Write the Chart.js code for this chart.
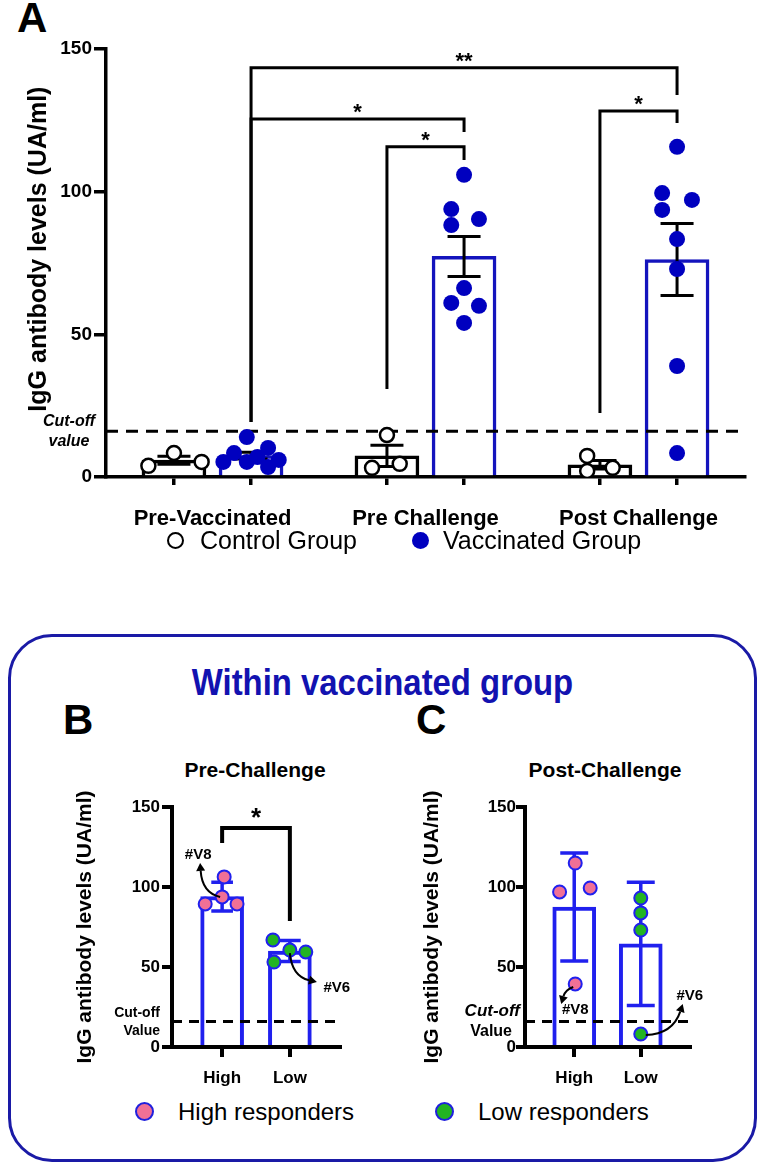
<!DOCTYPE html>
<html>
<head>
<meta charset="utf-8">
<title>IgG antibody levels</title>
<script src="https://cdn.jsdelivr.net/npm/chart.js@4.4.1/dist/chart.umd.min.js"></script>
<style>
  html, body { margin: 0; padding: 0; background: #fff; }
  #page { position: relative; width: 765px; height: 1169px; overflow: hidden;
          font-family: "Liberation Sans", Arial, sans-serif; color: #000; }
  #page canvas, #page .t, #page .dot, #box { position: absolute; }
  .t { white-space: nowrap; line-height: 1; }
  .letter { font-size: 42px; font-weight: bold; }
  .sub { font-size: 21px; font-weight: bold; text-align: center; width: 220px; }
  .leg { font-size: 25px; }
  .leg2 { font-size: 24px; }
  .dot { box-sizing: border-box; border-radius: 50%; }
  #box { left: 8px; top: 634px; width: 749px; height: 528px; box-sizing: border-box;
         border: 3px solid #1a1aa6; border-radius: 44px; }
  #boxTitle { left: 0; width: 765px; text-align: center;
              font-family: "Liberation Sans Narrow", "Liberation Sans", Arial, sans-serif;
              font-weight: bold; font-size: 36px; color: #1212b0; transform: scaleX(0.913); }
</style>
</head>
<body>
<div id="page">
  <div class="t letter" style="left:17px; top:-3px;">A</div>
  <canvas id="chartA" width="765" height="600" style="left:0; top:0;"></canvas>

  <div class="dot" style="left:167px; top:532px; width:17px; height:17px; border:2.5px solid #000; background:#fff;"></div>
  <div class="t leg" style="left:200px; top:528px;">Control Group</div>
  <div class="dot" style="left:412px; top:532px; width:17px; height:17px; background:#0000bf;"></div>
  <div class="t leg" style="left:443px; top:528px;">Vaccinated Group</div>

  <div id="box"></div>
  <div id="boxTitle" class="t" style="top:665px;">Within vaccinated group</div>

  <div class="t letter" style="left:63px; top:699px;">B</div>
  <div class="t letter" style="left:416px; top:699px;">C</div>
  <div class="t sub" style="left:145px; top:759px;">Pre-Challenge</div>
  <div class="t sub" style="left:495px; top:759px;">Post-Challenge</div>

  <canvas id="chartB" width="330" height="300" style="left:40px; top:790px;"></canvas>
  <canvas id="chartC" width="330" height="300" style="left:400px; top:790px;"></canvas>

  <div class="dot" style="left:135px; top:1102px; width:19px; height:19px; border:2.5px solid #2020dd; background:#f07096;"></div>
  <div class="t leg2" style="left:178px; top:1100px;">High responders</div>
  <div class="dot" style="left:435px; top:1102px; width:19px; height:19px; border:2.5px solid #2020dd; background:#22b422;"></div>
  <div class="t leg2" style="left:478px; top:1100px;">Low responders</div>
</div>

<script>
// ---------- panel A data ----------
const groups = ['Pre-Vaccinated', 'Pre Challenge', 'Post Challenge'];
const controlMean = [5.9, 7.4, 4.3];
const controlSem = [1.4, 3.7, 1.5];
const vaccMean = [7.5, 77.3, 76.2];
const vaccSem = [1.2, 7.0, 12.6];
const controlValues = [
  [3.9, 8.4, 5.3],
  [14.7, 3.2, 4.6],
  [7.4, 2.1, 3.2]
];
const vaccValues = [
  [14.0, 8.4, 5.3, 5.3, 7.0, 10.2, 3.5, 6.0],
  [105.9, 93.9, 88.3, 90.4, 66.2, 61.0, 60.0, 54.0],
  [115.7, 99.5, 93.6, 97.1, 83.4, 72.9, 38.9, 8.4]
];
// sideways spread of the dots round their bar (category units)
const controlSpread = [[-0.12, 0, 0.13], [0, -0.07, 0.06], [-0.06, -0.06, 0.06]];
const vaccSpread = [
  [-0.02, -0.08, -0.13, -0.02, 0.03, 0.08, 0.08, 0.13],
  [0, -0.06, -0.06, 0.07, 0, -0.06, 0.07, 0],
  [0, -0.07, -0.07, 0.07, 0, 0, 0, 0]
];
const cutOff = 16;
// significance brackets: bar = [group, 0 control / 1 vaccinated]
const bracketsA = [
  { from: [0, 1], to: [2, 1], top: 143.4, ends: [19.3, 133.9], text: '**' },
  { from: [0, 1], to: [1, 1], top: 125.5, ends: [19.3, 120.9], text: '*' },
  { from: [1, 0], to: [1, 1], top: 115.7, ends: [30.8, 111.1], text: '*' },
  { from: [2, 0], to: [2, 1], top: 128.3, ends: [22.4, 124.1], text: '*' }
];

// ---------- panels B / C data ----------
const responders = ['High', 'Low'];
const preMean = [94, 60];
const preSd = [9, 6.5];
const preHigh = [106.3, 93.8, 89.4, 89.4];
const preLow = [66.9, 60.6, 59.4, 53.1];
const postMean = [87.5, 64.5];
const postSd = [33.8, 38.5];
const postHigh = [115, 96.9, 99.4, 39.4];
const postLow = [93.1, 83.8, 73.1, 8.1];
const preHighSpread = [0.03, 0, -0.25, 0.22];
const preLowSpread = [-0.25, 0, 0.235, -0.235];
const postHighSpread = [0.015, -0.22, 0.24, 0.015];
const postLowSpread = [0, 0, 0, 0];
const bracketB = { top: 136.9, ends: [127.5, 78.8], text: '*' };

// ---------- styling ----------
const FONT = "'Liberation Sans', Arial, sans-serif";
const BLUE_A = '#1414bd';
const DOT_A = '#0000bf';
const BLUE_B = '#2020ee';
const PINK = '#f07096';
const GREEN = '#22b422';
const SIDE = 0.181;

Chart.defaults.font.family = FONT;
Chart.defaults.color = '#000';
Chart.defaults.animation = false;

const barX = (g, side) => g + 1 + (side ? SIDE : -SIDE);

function errorBar(x, mean, err, half, color, width) {
  const hi = mean + err, lo = mean - err;
  return {
    type: 'line', order: 3, clip: false,
    data: [{ x: x - half, y: hi }, { x: x + half, y: hi }, { x: x, y: hi },
           { x: x, y: lo }, { x: x - half, y: lo }, { x: x + half, y: lo }],
    borderColor: color, borderWidth: width, pointRadius: 0, pointHitRadius: 0,
    tension: 0, fill: false, borderJoinStyle: 'bevel', borderCapStyle: 'butt'
  };
}

function bracket(x1, x2, top, y1, y2, width) {
  return {
    type: 'line', order: 2, clip: false,
    data: [{ x: x1, y: y1 }, { x: x1, y: top }, { x: x2, y: top }, { x: x2, y: y2 }],
    borderColor: '#000', borderWidth: width, pointRadius: 0, pointHitRadius: 0,
    tension: 0, fill: false, borderJoinStyle: 'miter', borderCapStyle: 'butt'
  };
}

function cutLine(x1, x2, width, dash) {
  return {
    type: 'line', order: 2,
    data: [{ x: x1, y: cutOff }, { x: x2, y: cutOff }],
    borderColor: '#000', borderWidth: width, borderDash: dash,
    pointRadius: 0, pointHitRadius: 0, fill: false
  };
}

function yAxis(o) {
  return {
    min: 0, max: 150,
    ticks: { stepSize: 50, font: { size: o.tickSize, weight: 'bold' }, padding: o.tickPad, color: '#000' },
    grid: { display: true, drawOnChartArea: false, drawTicks: true, tickLength: o.tickLen,
            lineWidth: o.lw, color: '#000', tickColor: '#000' },
    border: { display: true, color: '#000', width: o.lw },
    title: { display: true, text: o.title, color: '#000',
             font: { size: o.titleSize, weight: 'bold' }, padding: 0 },
    afterFit: (a) => { a.width = o.width; }
  };
}

// stars, cut-off caption and animal tags, placed with the chart's scales
function notesPlugin(spec) {
  return {
    id: 'notes',
    afterDatasetsDraw(chart) {
      const { ctx, chartArea } = chart;
      const x = chart.scales.x, y = chart.scales.y;
      ctx.save();
      ctx.fillStyle = '#000';
      ctx.strokeStyle = '#000';
      spec.stars.forEach(s => {
        ctx.font = s.font;
        ctx.textAlign = 'center';
        ctx.textBaseline = 'alphabetic';
        ctx.fillText(s.text, x.getPixelForValue(s.x), y.getPixelForValue(s.y) + s.dy);
      });
      spec.cut.forEach(c => {
        ctx.font = c.font;
        ctx.textAlign = c.align;
        ctx.textBaseline = 'middle';
        ctx.fillText(c.text, chartArea.left + c.dx, y.getPixelForValue(cutOff) + c.dy);
      });
      (spec.tags || []).forEach(t => {
        const px = x.getPixelForValue(t.x), py = y.getPixelForValue(t.y);
        const sx = px + t.start[0], sy = py + t.start[1];
        const cx = px + t.ctrl[0], cy = py + t.ctrl[1];
        const ex = px + t.tip[0], ey = py + t.tip[1];
        const a = Math.atan2(ey - cy, ex - cx);
        const bx = ex - Math.cos(a) * 8, by = ey - Math.sin(a) * 8;
        ctx.lineWidth = 2;
        ctx.beginPath();
        ctx.moveTo(sx, sy);
        ctx.quadraticCurveTo(cx, cy, bx, by);
        ctx.stroke();
        ctx.beginPath();
        ctx.moveTo(ex, ey);
        ctx.lineTo(bx + Math.sin(a) * 4.5, by - Math.cos(a) * 4.5);
        ctx.lineTo(bx - Math.sin(a) * 4.5, by + Math.cos(a) * 4.5);
        ctx.closePath();
        ctx.fill();
        ctx.font = 'bold 15px ' + FONT;
        ctx.textAlign = 'center';
        ctx.textBaseline = 'middle';
        ctx.fillText(t.text, px + t.label[0], py + t.label[1]);
      });
      ctx.restore();
    }
  };
}

const TITLE = 'IgG antibody levels (UA/ml)';

// ---------- panel A ----------
const ctrlPts = [], vaccPts = [];
controlValues.forEach((vals, g) => vals.forEach((v, i) => ctrlPts.push({ x: barX(g, 0) + controlSpread[g][i], y: v })));
vaccValues.forEach((vals, g) => vals.forEach((v, i) => vaccPts.push({ x: barX(g, 1) + vaccSpread[g][i], y: v })));

const tickValsA = [];
groups.forEach((g, i) => tickValsA.push(barX(i, 0), i + 1, barX(i, 1)));

const datasetsA = [
  { type: 'scatter', order: 1, data: vaccPts, pointRadius: 8, pointHoverRadius: 8,
    pointBackgroundColor: DOT_A, pointBorderColor: DOT_A, pointBorderWidth: 0 },
  { type: 'scatter', order: 1, data: ctrlPts, pointRadius: 7, pointHoverRadius: 7,
    pointBackgroundColor: '#fff', pointBorderColor: '#000', pointBorderWidth: 2.5 },
  cutLine(0.5, 3.5, 3, [12, 8]),
  { type: 'bar', order: 4, grouped: false, barThickness: 64,
    data: groups.map((g, i) => ({ x: barX(i, 0), y: controlMean[i] })),
    backgroundColor: '#fff', borderColor: '#000', borderWidth: 3.5 },
  { type: 'bar', order: 4, grouped: false, barThickness: 64,
    data: groups.map((g, i) => ({ x: barX(i, 1), y: vaccMean[i] })),
    backgroundColor: '#fff', borderColor: BLUE_A, borderWidth: 3.5 }
];
groups.forEach((g, i) => {
  datasetsA.push(errorBar(barX(i, 0), controlMean[i], controlSem[i], 0.0775, '#000', 3));
  datasetsA.push(errorBar(barX(i, 1), vaccMean[i], vaccSem[i], 0.0775, '#000', 3));
});
bracketsA.forEach(b => {
  datasetsA.push(bracket(barX(b.from[0], b.from[1]), barX(b.to[0], b.to[1]), b.top, b.ends[0], b.ends[1], 3));
});

new Chart(document.getElementById('chartA'), {
  type: 'bar',
  data: { datasets: datasetsA },
  options: {
    responsive: false, devicePixelRatio: 1, events: [],
    layout: { padding: { left: 24, right: 20, top: 49, bottom: 0 } },
    plugins: { legend: { display: false }, tooltip: { enabled: false } },
    scales: {
      x: {
        type: 'linear', min: 0.5, max: 3.5, offset: false,
        afterBuildTicks: (a) => { a.ticks = tickValsA.map(v => ({ value: v })); },
        ticks: { autoSkip: false, maxRotation: 0, padding: 21, color: '#000',
                 font: { size: 22, weight: 'bold' },
                 callback: (v, i) => (i % 3 === 1 ? groups[(i - 1) / 3] : '') },
        grid: { display: true, drawOnChartArea: false, drawTicks: true, tickLength: 8, lineWidth: 3.5, offset: false,
                color: (c) => (c.index % 3 === 1 ? 'rgba(0,0,0,0)' : '#000'),
                tickColor: (c) => (c.index % 3 === 1 ? 'rgba(0,0,0,0)' : '#000') },
        border: { display: true, color: '#000', width: 3.5 },
        afterFit: (a) => { a.height = 123; }
      },
      // leading spaces lift the title a little above the axis centre, as in the figure
      y: yAxis({ title: '    ' + TITLE, tickSize: 19, tickPad: 2, tickLen: 12, lw: 3.5, titleSize: 25, width: 82 })
    }
  },
  plugins: [notesPlugin({
    stars: bracketsA.map(b => ({
      text: b.text, font: 'bold 22px ' + FONT, dy: 0,
      x: (barX(b.from[0], b.from[1]) + barX(b.to[0], b.to[1])) / 2, y: b.top
    })),
    cut: [
      { text: 'Cut-off', font: 'italic bold 16px ' + FONT, align: 'center', dx: -37, dy: -9.5 },
      { text: 'value', font: 'italic bold 16px ' + FONT, align: 'center', dx: -37, dy: 10.5 }
    ]
  })]
});

// ---------- panels B and C ----------
function responderChart(id, o) {
  const highPts = o.high.map((v, i) => ({ x: 1 + o.highSpread[i], y: v }));
  const lowPts = o.low.map((v, i) => ({ x: 2 + o.lowSpread[i], y: v }));
  const datasets = [
    { type: 'scatter', order: 1, data: highPts, pointRadius: 6.5, pointHoverRadius: 6.5,
      pointBackgroundColor: PINK, pointBorderColor: BLUE_B, pointBorderWidth: 2 },
    { type: 'scatter', order: 1, data: lowPts, pointRadius: 6.5, pointHoverRadius: 6.5,
      pointBackgroundColor: GREEN, pointBorderColor: BLUE_B, pointBorderWidth: 2 },
    cutLine(0.26, 2.74, 3, [10, 7]),
    { type: 'bar', order: 4, grouped: false, barThickness: 43,
      data: responders.map((r, i) => ({ x: i + 1, y: o.mean[i] })),
      backgroundColor: '#fff', borderColor: BLUE_B, borderWidth: 4 },
    errorBar(1, o.mean[0], o.err[0], o.cap, BLUE_B, 3.5),
    errorBar(2, o.mean[1], o.err[1], o.cap, BLUE_B, 3.5)
  ];
  if (o.bracket) datasets.push(bracket(1, 2, o.bracket.top, o.bracket.ends[0], o.bracket.ends[1], 4));

  new Chart(document.getElementById(id), {
    type: 'bar',
    data: { datasets },
    options: {
      responsive: false, devicePixelRatio: 1, events: [],
      layout: { padding: { left: o.padLeft, right: o.padRight, top: 17, bottom: 0 } },
      plugins: { legend: { display: false }, tooltip: { enabled: false } },
      scales: {
        x: {
          type: 'linear', min: 0.26, max: 2.74, offset: false,
          afterBuildTicks: (a) => { a.ticks = [{ value: 1 }, { value: 2 }]; },
          ticks: { autoSkip: false, maxRotation: 0, padding: 11, color: '#000',
                   font: { size: 17, weight: 'bold' }, callback: (v, i) => responders[i] },
          grid: { display: true, drawOnChartArea: false, drawTicks: true, tickLength: 10,
                  lineWidth: 4, color: '#000', tickColor: '#000', offset: false },
          border: { display: true, color: '#000', width: 4 },
          afterFit: (a) => { a.height = 43; }
        },
        y: yAxis({ title: TITLE, tickSize: 17, tickPad: o.tickPad, tickLen: o.tickLen, lw: 4, titleSize: 21, width: o.yWidth })
      }
    },
    plugins: [notesPlugin({ stars: o.stars, cut: o.cut, tags: o.tags })]
  });
}

responderChart('chartB', {
  mean: preMean, err: preSd, high: preHigh, low: preLow,
  highSpread: preHighSpread, lowSpread: preLowSpread, cap: 0.16,
  bracket: bracketB, padLeft: 33, padRight: 30, yWidth: 99, tickPad: 2, tickLen: 10,
  stars: [{ text: bracketB.text, font: 'bold 26px ' + FONT, x: 1.5, y: bracketB.top, dy: -2 }],
  cut: [
    { text: 'Cut-off', font: 'bold 14px ' + FONT, align: 'right', dx: -12, dy: -8.5 },
    { text: 'Value', font: 'bold 14px ' + FONT, align: 'right', dx: -12, dy: 9.5 }
  ],
  tags: [
    { text: '#V8', x: 1 + preHighSpread[1], y: preHigh[1], start: [-2, 0], ctrl: [-20, -4], tip: [-22, -34], label: [-24, -42] },
    { text: '#V6', x: 2 + preLowSpread[1], y: preLow[1], start: [0, 3], ctrl: [2, 26], tip: [27, 32], label: [47, 38] }
  ]
});

responderChart('chartC', {
  mean: postMean, err: postSd, high: postHigh, low: postLow,
  highSpread: postHighSpread, lowSpread: postLowSpread, cap: 0.21,
  bracket: null, padLeft: 20, padRight: 40, yWidth: 105, tickPad: 0, tickLen: 9,
  stars: [],
  cut: [
    { text: 'Cut-off', font: 'italic bold 17px ' + FONT, align: 'right', dx: -5, dy: -10.5 },
    { text: 'Value', font: 'bold 16px ' + FONT, align: 'right', dx: -13, dy: 10.5 }
  ],
  tags: [
    { text: '#V8', x: 1 + postHighSpread[3], y: postHigh[3], start: [-2, 3], ctrl: [-10, 6], tip: [-14, 20], label: [0, 26] },
    { text: '#V6', x: 2 + postLowSpread[3], y: postLow[3], start: [5, 1], ctrl: [32, 0], tip: [42, -30], label: [49, -38] }
  ]
});
</script>
</body>
</html>
